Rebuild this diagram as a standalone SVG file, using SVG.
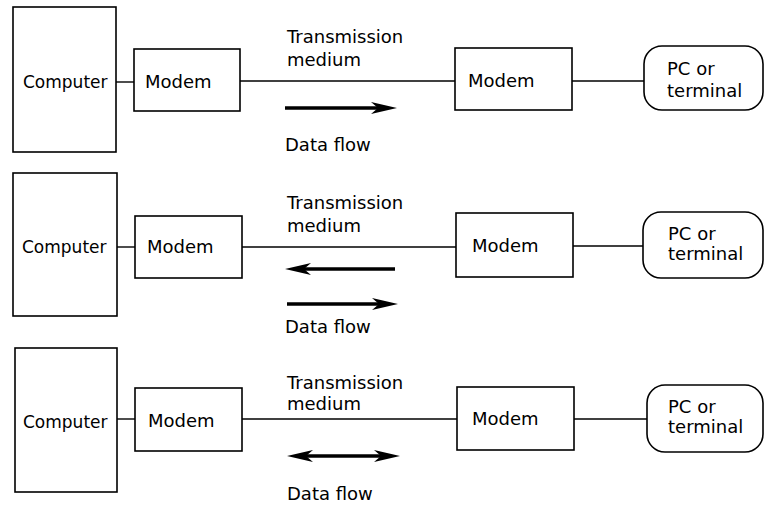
<svg xmlns="http://www.w3.org/2000/svg" width="764" height="507" viewBox="0 0 764 507">
<defs>
<style>
.box{fill:#fff;stroke:#000;stroke-width:1.6}
.ln{fill:none;stroke:#000;stroke-width:1.4}
.flow{fill:none;stroke:#000;stroke-width:3.4}
text{font-family:"DejaVu Sans","Liberation Sans",sans-serif;font-size:18px;fill:#000}
text.c{font-size:17px}
</style>
<marker id="ah" markerUnits="userSpaceOnUse" markerWidth="28" markerHeight="14" viewBox="0 0 28 14" refX="10" refY="7" orient="auto-start-reverse">
<path d="M0,1 L26,7 L0,13 L7,7 z" fill="#000"/>
</marker>
</defs>
<rect width="764" height="507" fill="#fff"/>

<!-- Panel 1 -->
<g id="computer1"><rect class="box" x="13" y="7" width="103" height="145"/><text class="c" x="23" y="88">Computer</text></g>
<g id="modemA1"><rect class="box" x="134" y="49" width="106" height="62"/><text x="145" y="88">Modem</text></g>
<g id="modemB1"><rect class="box" x="455" y="48" width="117" height="62"/><text x="468" y="87">Modem</text></g>
<g id="pc1"><rect class="box" x="644" y="46" width="119" height="64" rx="18" ry="18"/><text x="667" y="75">PC or</text><text x="667" y="97">terminal</text></g>
<g id="labels1"><text x="287" y="43">Transmission</text><text x="287" y="66">medium</text><text x="285" y="151">Data flow</text></g>

<!-- Panel 2 -->
<g id="computer2"><rect class="box" x="13" y="173" width="104" height="143"/><text class="c" x="22" y="253">Computer</text></g>
<g id="modemA2"><rect class="box" x="135" y="216" width="107" height="62"/><text x="147" y="253">Modem</text></g>
<g id="modemB2"><rect class="box" x="456" y="213" width="117" height="64"/><text x="472" y="252">Modem</text></g>
<g id="pc2"><rect class="box" x="643" y="212" width="120" height="66" rx="18" ry="18"/><text x="668" y="240">PC or</text><text x="668" y="260">terminal</text></g>
<g id="labels2"><text x="287" y="209">Transmission</text><text x="287" y="232">medium</text><text x="285" y="333">Data flow</text></g>

<!-- Panel 3 -->
<g id="computer3"><rect class="box" x="15" y="348" width="102" height="144"/><text class="c" x="23" y="428">Computer</text></g>
<g id="modemA3"><rect class="box" x="135" y="388" width="107" height="63"/><text x="148" y="427">Modem</text></g>
<g id="modemB3"><rect class="box" x="457" y="387" width="117" height="63"/><text x="472" y="425">Modem</text></g>
<g id="pc3"><rect class="box" x="647" y="385" width="116" height="67" rx="18" ry="18"/><text x="668" y="413">PC or</text><text x="668" y="433">terminal</text></g>
<g id="labels3"><text x="287" y="389">Transmission</text><text x="287" y="410">medium</text><text x="287" y="500">Data flow</text></g>

<g id="connectors">
<line class="ln" x1="116" y1="82" x2="134" y2="82"/>
<line class="ln" x1="240" y1="81" x2="455" y2="81"/>
<line class="ln" x1="572" y1="81" x2="644" y2="81"/>
<line class="flow" x1="285" y1="108" x2="381" y2="108" marker-end="url(#ah)"/>

<line class="ln" x1="117" y1="247" x2="135" y2="247"/>
<line class="ln" x1="242" y1="247" x2="456" y2="247"/>
<line class="ln" x1="573" y1="246" x2="643" y2="246"/>
<line class="flow" x1="395" y1="269" x2="301" y2="269" marker-end="url(#ah)"/>
<line class="flow" x1="287" y1="304" x2="382" y2="304" marker-end="url(#ah)"/>

<line class="ln" x1="117" y1="419" x2="135" y2="419"/>
<line class="ln" x1="242" y1="419" x2="457" y2="419"/>
<line class="ln" x1="574" y1="419" x2="647" y2="419"/>
<line class="flow" x1="303" y1="456" x2="384" y2="456" marker-start="url(#ah)" marker-end="url(#ah)"/>
</g>
</svg>
